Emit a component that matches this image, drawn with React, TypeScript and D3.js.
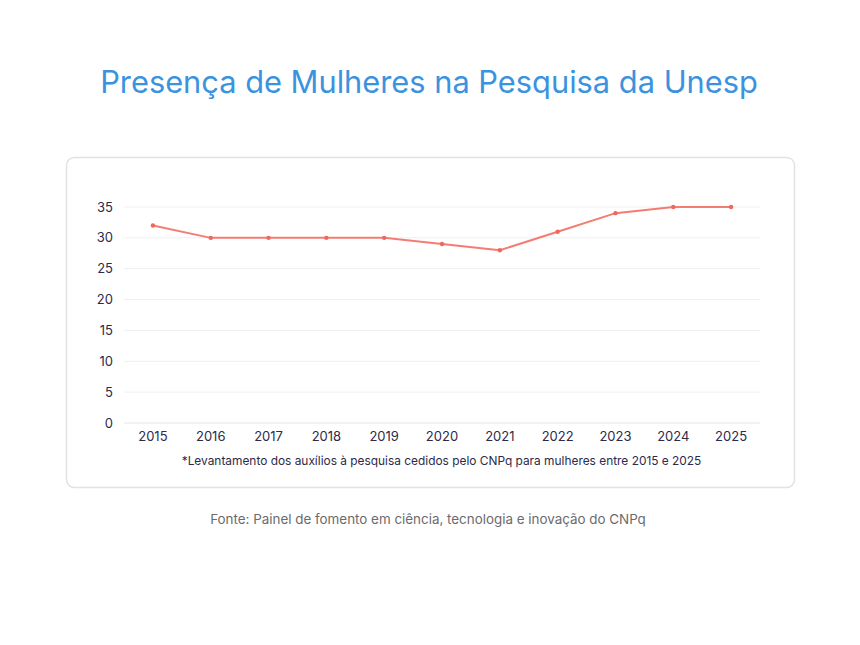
import React, { useEffect, useRef } from "react";
import * as d3 from "d3";

const years = ["2015","2016","2017","2018","2019","2020","2021","2022","2023","2024","2025"];
const values = [32, 30, 30, 30, 30, 29, 28, 31, 34, 35, 35];
const yTicks = [0, 5, 10, 15, 20, 25, 30, 35];
const title = "Presença de Mulheres na Pesquisa da Unesp";
const footnote = "*Levantamento dos auxílios à pesquisa cedidos pelo CNPq para mulheres entre 2015 e 2025";
const source = "Fonte: Painel de fomento em ciência, tecnologia e inovação do CNPq";

export default function App() {
  const ref = useRef<SVGSVGElement>(null);
  useEffect(() => {
    const svg = d3.select(ref.current);
    svg.selectAll("*").remove();
    const font = "Inter, 'Noto Sans', sans-serif";

    svg.append("text").attr("x", 429).attr("y", 93).attr("text-anchor", "middle")
      .attr("font-family", font).attr("font-size", 30.8).attr("fill", "#3b93df").text(title);

    svg.append("rect").attr("x", 66.5).attr("y", 157.5).attr("width", 728).attr("height", 330)
      .attr("rx", 8).attr("fill", "#fff").attr("stroke", "#e2e2e4").attr("stroke-width", 1.5);

    const x = d3.scaleBand().domain(years).range([124, 760]);
    const y = d3.scaleLinear().domain([0, 35]).range([423, 207]);

    const g = svg.append("g");
    g.selectAll("line.grid").data(yTicks).enter().append("line")
      .attr("x1", 124).attr("x2", 760).attr("y1", d => y(d)).attr("y2", d => y(d))
      .attr("stroke", d => d === 0 ? "#e4e4e8" : "#efeff2").attr("stroke-width", 1);

    g.selectAll("text.yt").data(yTicks).enter().append("text")
      .attr("x", 113).attr("y", d => y(d)).attr("dy", "0.35em").attr("text-anchor", "end")
      .attr("font-family", font).attr("font-size", 13).attr("fill", "#2d2a4a").text(d => d);

    g.selectAll("text.xt").data(years).enter().append("text")
      .attr("x", d => x(d)! + x.bandwidth() / 2).attr("y", 441).attr("text-anchor", "middle")
      .attr("font-family", font).attr("font-size", 13).attr("fill", "#2d2a4a").text(d => d);

    const line = d3.line<number>().x((_, i) => x(years[i])! + x.bandwidth() / 2).y(d => y(d));
    g.append("path").datum(values).attr("d", line).attr("fill", "none")
      .attr("stroke", "#f37d73").attr("stroke-width", 2);
    g.selectAll("circle").data(values).enter().append("circle")
      .attr("cx", (_, i) => x(years[i])! + x.bandwidth() / 2).attr("cy", d => y(d)).attr("r", 2.2)
      .attr("fill", "#f0675c");

    svg.append("text").attr("x", 441.5).attr("y", 465).attr("text-anchor", "middle")
      .attr("font-family", font).attr("font-size", 11.9).attr("fill", "#2d2a4a").text(footnote);

    svg.append("text").attr("x", 428).attr("y", 524).attr("text-anchor", "middle")
      .attr("font-family", font).attr("font-size", 13.4).attr("fill", "#6b6b6b").text(source);
  }, []);
  return <svg ref={ref} width={860} height={645} style={{ display: "block", position: "absolute", left: 0, top: 0 }} />;
}
